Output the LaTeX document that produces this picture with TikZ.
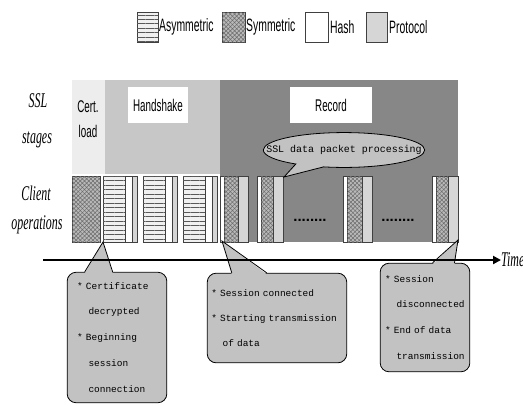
\documentclass[tikz,border=0pt]{standalone}
\usepackage{fontspec}
\setmainfont{Liberation Serif}
\newfontfamily\labfont{Liberation Serif}[FakeStretch=0.57]
\newfontfamily\nsans{Liberation Sans}[FakeStretch=0.58]
\newfontfamily\monof{Liberation Mono}
\newfontfamily\dotfont{Liberation Sans}
\usetikzlibrary{patterns.meta,shapes.callouts,shapes.geometric,arrows.meta}
\definecolor{certbg}{gray}{0.93}
\definecolor{hsbg}{gray}{0.78}
\definecolor{recbg}{gray}{0.53}
\definecolor{callbg}{gray}{0.76}
\definecolor{edgec}{gray}{0.25}
\newcommand\calind{\hspace*{11.4pt}}
\newcommand\calnl{\\\relax}
\tikzset{
  asym/.style={fill=gray!12, postaction={pattern={Lines[angle=0,distance=4.5pt,line width=0.9pt]}, pattern color=gray!70!black}, draw=edgec, line width=0.6pt},
  sym/.style={fill=gray!55, postaction={pattern={Hatch[angle=45,distance=3pt,line width=0.5pt]}, pattern color=gray!85!black}, draw=edgec, line width=0.6pt},
  hashf/.style={fill=white, draw=edgec, line width=0.6pt},
  proto/.style={fill=gray!32, draw=edgec, line width=0.6pt},
  legtext/.style={font=\nsans\fontsize{18}{20}\selectfont, anchor=west, inner sep=0pt},
  stagetext/.style={font=\nsans\fontsize{17}{25}\selectfont, align=center, inner sep=0pt},
  sidelab/.style={font=\labfont\itshape\fontsize{21}{24}\selectfont, anchor=base, inner sep=0pt},
  labbox/.style={fill=white, inner sep=0pt},
  callbox/.style={draw=black, line width=0.8pt, fill=callbg, rounded corners=9pt, align=left, inner ysep=0pt},
  dots/.style={font=\dotfont\bfseries\fontsize{15}{15}\selectfont, anchor=base, inner sep=0pt},
  ptr/.style={draw=black, line width=0.8pt}
}
\begin{document}
\begin{tikzpicture}[x=1bp,y=-1bp]
\useasboundingbox (0,0) rectangle (523,405);
\fill[white] (0,0) rectangle (523,405);

% legend
\path[asym] (137,12) rectangle (158,42);
\node[legtext] (lasym) at (159,27) {Asymmetric};
\path[sym] (222,12) rectangle (245,42);
\node[legtext] (lsym) at (246,27) {Symmetric};
\path[hashf] (305,12) rectangle (328,42);
\node[legtext] (lhash) at (330,27) {Hash};
\path[proto] (366,12) rectangle (387,42);
\node[legtext] (lproto) at (389,27) {Protocol};

% stage bands
\fill[certbg] (72,80) rectangle (105,174);
\fill[hsbg] (105,80) rectangle (220,174);
\fill[recbg] (220,80) rectangle (458,242);

\node[stagetext] (cert) at (88,119) {Cert.\\load};
\node[labbox, minimum width=60, minimum height=36] (hsbox) at (158,105) {};
\node[stagetext] (hstxt) at (hsbox.center) {Handshake};
\node[labbox, minimum width=82, minimum height=36] (recbox) at (331,105) {};
\node[stagetext] (rectxt) at (recbox.center) {Record};

% side labels
\node[sidelab] (ssl) at (38,107) {SSL};
\node[sidelab] (stg) at (37,143) {stages};
\node[sidelab] (cli) at (36,200) {Client};
\node[sidelab] (ops) at (37,229) {operations};

% client operation blocks
\path[sym] (72,176) rectangle (100,242);
\foreach \x in {103,143,183}{
  \path[asym] (\x,176) rectangle (\x+22,242);
  \path[hashf] (\x+22,176) rectangle (\x+29,242);
  \path[proto] (\x+29,176) rectangle (\x+34,242);
}
\foreach \x/\w in {220/28,257/26,343/29,432/26}{
  \path[hashf] (\x,176) rectangle (\x+4,242);
  \path[sym] (\x+4,176) rectangle (\x+\w-10,242);
  \path[proto] (\x+\w-10,176) rectangle (\x+\w,242);
}
\node[dots] (d1) at (310,221) {........};
\node[dots] (d2) at (398,221) {........};

% ellipse callout
\node[ellipse callout, draw=black, line width=0.8pt, fill=callbg, minimum width=162, minimum height=35, inner sep=0pt, callout pointer arc=22, callout absolute pointer={(284,177)}] (ell) at (344,150) {};
\node[font=\monof\fontsize{10}{12}\selectfont, inner sep=0pt] (elltxt) at (ell.center) {SSL data packet processing};

% bottom callouts
\node[callbox, font=\monof\fontsize{9.5}{26}\selectfont, minimum width=100, minimum height=131, text width=80, inner xsep=10] (cb1) at (117,337.5)
  {* Certificate\calnl\calind decrypted\calnl * Beginning\calnl\calind session\calnl\calind connection};
\coordinate (p1) at (103,242);
\fill[callbg] ([xshift=18, yshift=-1.5]cb1.north west) -- (p1) -- ([xshift=46, yshift=-1.5]cb1.north west) -- cycle;
\draw[ptr] ([xshift=18]cb1.north west) -- (p1) -- ([xshift=46]cb1.north west);

\node[callbox, font=\monof\fontsize{9.5}{25}\selectfont, minimum width=140, minimum height=90, text width=132, inner xsep=4] (cb2) at (277,318)
  {* Session connected\calnl * Starting transmission\calnl\calind of data};
\coordinate (p2) at (222,241);
\fill[callbg] ([xshift=25, yshift=-1.5]cb2.north west) -- (p2) -- ([xshift=60, yshift=-1.5]cb2.north west) -- cycle;
\draw[ptr] ([xshift=25]cb2.north west) -- (p2) -- ([xshift=60]cb2.north west);

\node[callbox, font=\monof\fontsize{9.5}{26}\selectfont, minimum width=90, minimum height=109, text width=80, inner xsep=5] (cb3) at (425,317.5)
  {* Session\calnl\calind disconnected\calnl * End of data\calnl\calind transmission};
\coordinate (p3) at (458,240);
\fill[callbg] ([xshift=53, yshift=-1.5]cb3.north west) -- (p3) -- ([xshift=75, yshift=-1.5]cb3.north west) -- cycle;
\draw[ptr] ([xshift=53]cb3.north west) -- (p3) -- ([xshift=75]cb3.north west);

% time axis
\node[sidelab, anchor=base west] (time) at (501,266) {Time};
\coordinate (t0) at (43,260);
\draw[line width=2.2pt, -{Triangle[length=8pt,width=8pt]}] (t0) -- (time.west |- t0);
\end{tikzpicture}
\end{document}
